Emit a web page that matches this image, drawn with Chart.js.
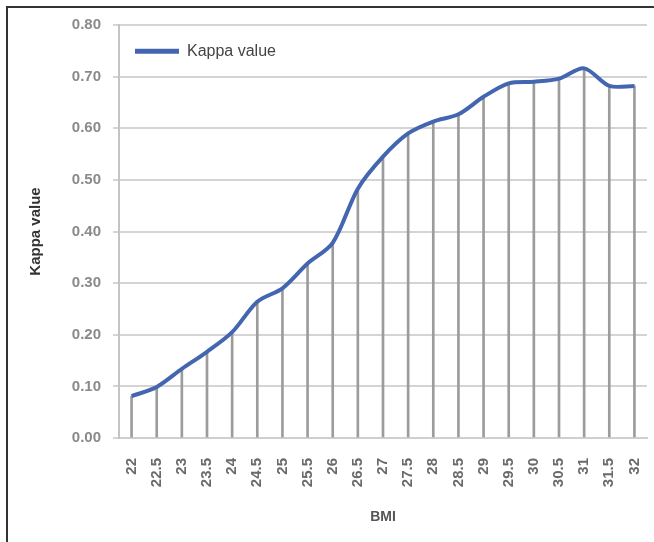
<!DOCTYPE html>
<html>
<head>
<meta charset="utf-8">
<script src="https://cdn.jsdelivr.net/npm/chart.js@4/dist/chart.umd.min.js"></script>
<style>
  html, body { margin: 0; padding: 0; background: #fff; }
  #wrap { position: relative; width: 654px; height: 542px; overflow: hidden; }
  #frame { position: absolute; left: 6px; top: 6px; width: 700px; height: 600px; border: 2px solid #333; box-sizing: border-box; pointer-events: none; }
  canvas { position: absolute; left: 0; top: 0; }
</style>
</head>
<body>
<div id="wrap">
  <canvas id="c" width="654" height="542"></canvas>
  <div id="frame"></div>
</div>
<script>
const bmiCategories = ["22","22.5","23","23.5","24","24.5","25","25.5","26","26.5","27","27.5","28","28.5","29","29.5","30","30.5","31","31.5","32"];
const kappaValues = [0.081, 0.099, 0.134, 0.167, 0.205, 0.264, 0.290, 0.338, 0.378, 0.483, 0.545, 0.590, 0.613, 0.627, 0.661, 0.687, 0.690, 0.696, 0.716, 0.682, 0.682];
const yTickValues = [0, 0.1, 0.2, 0.3, 0.4, 0.5, 0.6, 0.7, 0.8];
const seriesName = "Kappa value";
const xTitle = "BMI";
const yTitle = "Kappa value";

const FONT = "'Liberation Sans', Arial, sans-serif";
const lineColor = "#4466b0";

new Chart(document.getElementById('c'), {
  type: 'bar',
  data: {
    labels: bmiCategories,
    datasets: [
      {
        type: 'line',
        label: seriesName,
        data: kappaValues,
        borderColor: lineColor,
        backgroundColor: lineColor,
        borderWidth: 4,
        pointRadius: 0,
        tension: 0.3,
        fill: false,
        order: 0
      },
      {
        type: 'bar',
        label: 'drop',
        data: kappaValues,
        backgroundColor: '#9c9c9c',
        barThickness: 2,
        order: 1
      }
    ]
  },
  options: {
    responsive: false,
    animation: false,
    devicePixelRatio: 1,
    layout: { padding: { left: 0, right: 7, top: 25, bottom: 0 } },
    plugins: {
      tooltip: { enabled: false },
      legend: {
        position: 'chartArea',
        align: 'start',
        title: {
          display: true, text: ' ',
          font: { family: FONT, size: 16 },
          padding: { top: 4, bottom: 4 }
        },
        labels: {
          filter: (item) => item.text === seriesName,
          boxWidth: 44,
          boxHeight: 5,
          padding: 16,
          color: '#444',
          font: { family: FONT, size: 16 },
          generateLabels: (chart) => {
            const items = Chart.defaults.plugins.legend.labels.generateLabels(chart);
            items.forEach(it => { it.lineWidth = 0; });
            return items;
          }
        }
      }
    },
    scales: {
      x: {
        offset: true,
        grid: { display: false, drawTicks: false },
        border: { display: true, color: '#cfcfcf', width: 2 },
        ticks: {
          minRotation: 90, maxRotation: 90, autoSkip: false,
          padding: 20,
          color: '#6a6a6a',
          font: { family: FONT, size: 15, weight: 'bold' }
        },
        title: {
          display: true, text: xTitle, color: '#555',
          font: { family: FONT, size: 14, weight: 'bold' },
          padding: { top: 0, bottom: 16 }
        },
        afterFit: (s) => { s.height = 104; s.paddingLeft = 0; s.paddingRight = 0; }
      },
      y: {
        min: 0, max: 0.8,
        afterBuildTicks: (s) => { s.ticks = yTickValues.map(v => ({ value: v })); },
        grid: { color: '#d4d4d4', lineWidth: 2, tickLength: 6, drawTicks: true },
        border: { display: true, color: '#c4c4c4', width: 2 },
        ticks: {
          padding: 12,
          color: '#8a8a8a',
          font: { family: FONT, size: 15, weight: 'bold' },
          callback: (v) => Number(v).toFixed(2)
        },
        title: {
          display: true, text: yTitle, color: '#333',
          font: { family: FONT, size: 15, weight: 'bold' },
          padding: { top: 27, bottom: 0 }
        },
        afterFit: (s) => { s.width = 119; }
      }
    }
  }
});
</script>
</body>
</html>
